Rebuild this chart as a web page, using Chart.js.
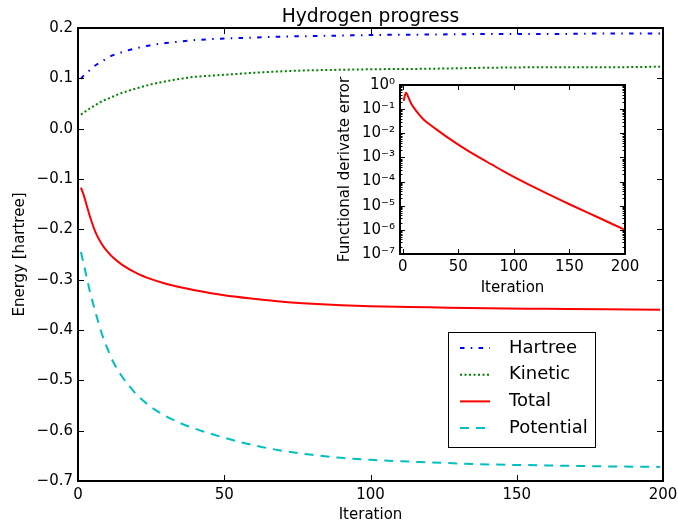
<!DOCTYPE html>
<html>
<head>
<meta charset="utf-8">
<title>Hydrogen progress</title>
<script src="https://cdn.jsdelivr.net/npm/chart.js"></script>
<style>
  body { margin: 0; background: #fff; }
  .wrap { position: relative; width: 678px; height: 525px; }
  #main { position: absolute; left: 0; top: 0; }
  #inset { position: absolute; left: 330px; top: 70px; }
</style>
</head>
<body>
<div class="wrap">
  <canvas id="main" width="678" height="525"></canvas>
  <canvas id="inset" width="310" height="235"></canvas>
</div>
<script>
// energies per SCF iteration [hartree]
const iterations = [1, 2, 3, 4, 6, 8, 10, 12, 15, 20, 25, 30, 35, 40, 50, 60, 70, 80, 90, 100, 120, 140, 160, 180, 199];
const hartree   = [0.099, 0.106, 0.111, 0.116, 0.126, 0.133, 0.140, 0.146, 0.152, 0.160, 0.166, 0.170, 0.173, 0.176, 0.179, 0.181, 0.183, 0.184, 0.185, 0.186, 0.187, 0.188, 0.188, 0.189, 0.189];
const kinetic   = [0.028, 0.032, 0.036, 0.040, 0.047, 0.054, 0.059, 0.064, 0.071, 0.080, 0.088, 0.094, 0.099, 0.103, 0.107, 0.111, 0.114, 0.116, 0.117, 0.118, 0.119, 0.121, 0.122, 0.122, 0.123];
const total     = [-0.117, -0.133, -0.153, -0.173, -0.206, -0.228, -0.244, -0.256, -0.270, -0.287, -0.299, -0.308, -0.315, -0.321, -0.331, -0.338, -0.344, -0.348, -0.351, -0.353, -0.355, -0.357, -0.358, -0.359, -0.360];
const potential = [-0.245, -0.270, -0.296, -0.322, -0.365, -0.405, -0.436, -0.463, -0.492, -0.528, -0.553, -0.571, -0.585, -0.596, -0.614, -0.629, -0.640, -0.648, -0.654, -0.658, -0.663, -0.667, -0.669, -0.671, -0.672];

// functional derivative error (inset, log scale)
const errIterations = [1, 2, 3, 4, 5, 6, 8, 10, 15, 20, 25, 30, 40, 50, 60, 70, 80, 90, 100, 125, 150, 175, 199];
const errors = [0.22, 0.38, 0.48, 0.42, 0.32, 0.25, 0.16, 0.115, 0.058, 0.033, 0.022, 0.0148, 0.0069, 0.0034, 0.00174, 0.00093, 0.00051, 0.00028, 0.000158, 0.000041, 0.0000115, 0.0000034, 0.00000105];

Chart.defaults.font.family = 'DejaVu Sans';
Chart.defaults.color = '#000';

const pts = (xs, ys) => xs.map((x, i) => ({ x: x, y: ys[i] }));
const minus = s => s.replace('-', '\u2212');
const sup = { '0': '\u2070', '1': '\u00b9', '2': '\u00b2', '3': '\u00b3', '4': '\u2074', '5': '\u2075', '6': '\u2076', '7': '\u2077', '-': '\u207b' };

function line(ctx, x1, y1, x2, y2) {
    ctx.beginPath();
    ctx.moveTo(x1, y1);
    ctx.lineTo(x2, y2);
    ctx.stroke();
}

// matplotlib-like frame: inward ticks on all four sides, box around the axes
const frame = {
    id: 'frame',
    beforeDraw(chart, args, opts) {
        if (!opts.fill) return;
        const a = chart.chartArea;
        chart.ctx.save();
        chart.ctx.fillStyle = '#fff';
        chart.ctx.fillRect(a.left, a.top, a.width, a.height);
        chart.ctx.restore();
    },
    afterDraw(chart, args, opts) {
        const { ctx, chartArea: a, scales } = chart;
        const len = opts.len || 6;
        ctx.save();
        ctx.strokeStyle = '#000';
        ctx.lineWidth = 1;
        scales.x.ticks.forEach(t => {
            const px = Math.round(scales.x.getPixelForValue(t.value)) + 0.5;
            line(ctx, px, a.bottom, px, a.bottom - len);
            line(ctx, px, a.top, px, a.top + len);
        });
        scales.y.ticks.forEach(t => {
            const py = Math.round(scales.y.getPixelForValue(t.value)) + 0.5;
            line(ctx, a.left, py, a.left + len, py);
            line(ctx, a.right, py, a.right - len, py);
        });
        if (opts.logMinor) {
            for (let e = -7; e < 0; e++) {
                for (let m = 2; m < 10; m++) {
                    const py = Math.round(scales.y.getPixelForValue(m * Math.pow(10, e))) + 0.5;
                    line(ctx, a.left, py, a.left + len / 2, py);
                    line(ctx, a.right, py, a.right - len / 2, py);
                }
            }
        }
        ctx.lineWidth = 2;
        ctx.strokeRect(a.left, a.top, a.width, a.height);
        ctx.restore();
    }
};

// boxed legend sitting inside the plot area
const legendBox = {
    id: 'legendBox',
    afterDraw(chart) {
        const { ctx, chartArea: a } = chart;
        const x0 = a.right - 215, y0 = a.bottom - 149, w = 147, h = 115;
        ctx.save();
        ctx.fillStyle = '#fff';
        ctx.fillRect(x0, y0, w, h);
        ctx.strokeStyle = '#000';
        ctx.lineWidth = 1;
        ctx.strokeRect(x0 + 0.5, y0 + 0.5, w, h);
        ctx.font = '18px "DejaVu Sans"';
        ctx.textBaseline = 'middle';
        chart.data.datasets.forEach((ds, i) => {
            const y = y0 + 16 + i * 26.7;
            ctx.strokeStyle = ds.borderColor;
            ctx.lineWidth = ds.borderWidth;
            ctx.setLineDash(ds.borderDash || []);
            line(ctx, x0 + 12, y, x0 + 42, y);
            ctx.setLineDash([]);
            ctx.fillStyle = '#000';
            ctx.fillText(ds.label, x0 + 61, y);
        });
        ctx.restore();
    }
};

const curve = (label, xs, ys, color, dash) => ({
    label: label,
    data: pts(xs, ys),
    borderColor: color,
    borderWidth: 2,
    borderDash: dash,
    pointRadius: 0,
    fill: false,
    cubicInterpolationMode: 'monotone'
});

// keep edge tick labels from shrinking the plot area
const noEdgePad = s => { s.paddingLeft = 0; s.paddingRight = 0; s.paddingTop = 0; s.paddingBottom = 0; };

new Chart(document.getElementById('main'), {
    type: 'line',
    data: {
        datasets: [
            curve('Hartree', iterations, hartree, '#0000ff', [4.5, 6.3, 1.5, 6.3]),
            curve('Kinetic', iterations, kinetic, '#008000', [2, 2.5]),
            curve('Total', iterations, total, '#ff0000', []),
            curve('Potential', iterations, potential, '#00bfbf', [9, 7])
        ]
    },
    options: {
        responsive: false,
        animation: false,
        devicePixelRatio: 1,
        layout: { padding: { top: 0, right: 15, left: 0, bottom: 0 } },
        plugins: {
            legend: { display: false },
            tooltip: { enabled: false },
            title: {
                display: true,
                fullSize: false,
                text: 'Hydrogen progress',
                color: '#000',
                font: { size: 18.7, weight: 'normal', lineHeight: 1 },
                padding: { top: 8, bottom: 1.3 }
            },
            frame: { len: 6 }
        },
        scales: {
            x: {
                type: 'linear',
                min: 0,
                max: 200,
                grid: { display: false, drawTicks: false },
                border: { display: false },
                ticks: { stepSize: 50, font: { size: 15 }, padding: 5, maxRotation: 0 },
                title: { display: true, text: 'Iteration', font: { size: 15 }, padding: { top: 0, bottom: 1 } },
                afterFit: s => { s.height = 44; noEdgePad(s); }
            },
            y: {
                min: -0.7,
                max: 0.2,
                grid: { display: false, drawTicks: false },
                border: { display: false },
                ticks: {
                    stepSize: 0.1,
                    font: { size: 15 },
                    padding: 5,
                    callback: v => Math.abs(v) < 1e-9 ? '0.0' : minus(v.toFixed(1))
                },
                title: { display: true, text: 'Energy [hartree]', font: { size: 15 }, padding: { top: 11, bottom: 0 } },
                afterFit: s => { s.width = 78; noEdgePad(s); }
            }
        }
    },
    plugins: [frame, legendBox]
});

new Chart(document.getElementById('inset'), {
    type: 'line',
    data: {
        datasets: [curve('error', errIterations, errors, '#ff0000', [])]
    },
    options: {
        responsive: false,
        animation: false,
        devicePixelRatio: 1,
        layout: { padding: { top: 15, right: 15, left: 0, bottom: 0 } },
        plugins: {
            legend: { display: false },
            tooltip: { enabled: false },
            frame: { len: 5, logMinor: true, fill: true }
        },
        scales: {
            x: {
                type: 'linear',
                min: -2.4,
                max: 200,
                grid: { display: false, drawTicks: false },
                border: { display: false },
                afterBuildTicks: s => { s.ticks = [0, 50, 100, 150, 200].map(v => ({ value: v })); },
                ticks: { font: { size: 15 }, padding: 4, maxRotation: 0 },
                title: { display: true, text: 'Iteration', font: { size: 15 }, padding: { top: 0, bottom: 8 } },
                afterFit: s => { s.height = 51; noEdgePad(s); }
            },
            y: {
                type: 'logarithmic',
                min: 1e-7,
                max: 1,
                grid: { display: false, drawTicks: false },
                border: { display: false },
                afterBuildTicks: s => { s.ticks = [-7, -6, -5, -4, -3, -2, -1, 0].map(e => ({ value: Math.pow(10, e) })); },
                ticks: {
                    font: { size: 15 },
                    padding: 5,
                    callback: v => '10' + String(Math.round(Math.log10(v))).split('').map(c => sup[c]).join('')
                },
                title: { display: true, text: 'Functional derivate error', font: { size: 15 }, padding: { top: 6, bottom: 0 } },
                afterFit: s => { s.width = 70; noEdgePad(s); }
            }
        }
    },
    plugins: [frame]
});
</script>
</body>
</html>
